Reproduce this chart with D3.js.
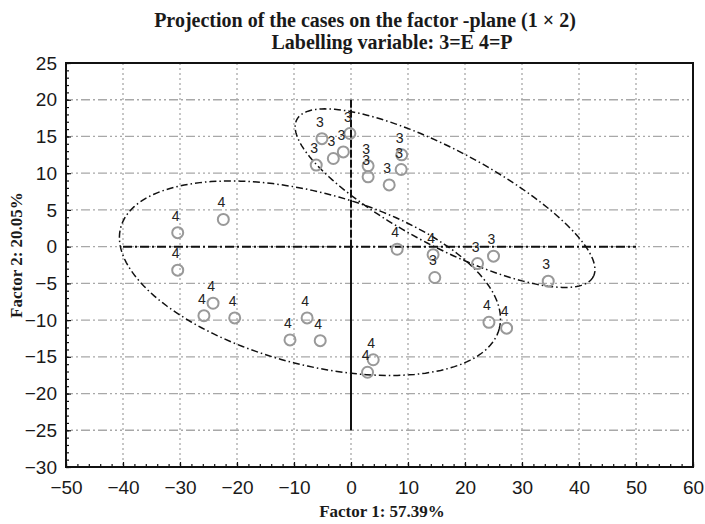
<!DOCTYPE html>
<html><head><meta charset="utf-8">
<script src="https://cdn.jsdelivr.net/npm/d3@7"></script>
<style>body{margin:0;background:#fff}</style>
</head><body><svg id="c" width="705" height="524"></svg>
<script>
const xTicks = [-50,-40,-30,-20,-10,0,10,20,30,40,50,60];
const yTicks = [25,20,15,10,5,0,-5,-10,-15,-20,-25,-30];
const caseLabel = [3,3,3,3,3,3,3,3,3,3, 3,3,3,3, 4,4,4,4, 4,4,4,4,4,4,4,4,4,4,4];
const caseX = [-5.1,-3.1,-1.35,-0.2,-6.1,3.0,3.0,6.7,8.8,8.9, 14.7,22.2,25.0,34.6, 8.1,14.4,24.2,27.3, -22.4,-30.4,-30.4,-24.2,-25.8,-20.4,-10.7,-7.7,-5.4,3.9,2.9];
const caseY = [14.7,12.0,12.9,15.4,11.1,11.0,9.5,8.4,10.5,12.5, -4.2,-2.3,-1.3,-4.7, -0.35,-1.1,-10.3,-11.1, 3.7,1.9,-3.2,-7.7,-9.4,-9.7,-12.7,-9.7,-12.8,-15.4,-17.1];
const ellipseCentre = [[16.5,6.6],[-7.2,-4.3]];
const ellipseAxisA = [[26.0,-10.7],[33.2,-6.9]];
const ellipseAxisB = [[-3.95,-5.77],[-3.9,-11.3]];
const title1 = "Projection of the cases on the factor -plane (1 \u00d7 2)";
const title2 = "Labelling variable: 3=E 4=P";
const xTitle = "Factor 1: 57.39%";
const yTitle = "Factor 2: 20.05%";

const svg = d3.select("#c");
const L=66,R=693,T=63,B=467;
const x = d3.scaleLinear([-50,60],[L,R]);
const y = d3.scaleLinear([-30,25],[B,T]);

// gridlines
const g = svg.append("g");
g.selectAll(".gx").data(xTicks.slice(1,-1)).join("line")
  .attr("x1",d=>x(d)).attr("x2",d=>x(d)).attr("y1",T).attr("y2",B)
  .attr("stroke","#a8a8a8").attr("stroke-width",1.3).attr("stroke-dasharray","2,3");
g.selectAll(".gy").data(yTicks.slice(1,-1)).join("line")
  .attr("y1",d=>y(d)).attr("y2",d=>y(d)).attr("x1",L).attr("x2",R)
  .attr("stroke","#a8a8a8").attr("stroke-width",1.3).attr("stroke-dasharray","2,3,2,3,2,3,9,3,2,3,9,3");

// axes lines through origin
svg.append("line").attr("x1",x(-40)).attr("x2",x(50)).attr("y1",y(0)).attr("y2",y(0))
  .attr("stroke","#111").attr("stroke-width",2).attr("stroke-dasharray","9,3,2,3");
svg.append("line").attr("x1",x(0)).attr("x2",x(0)).attr("y1",y(20)).attr("y2",y(0))
  .attr("stroke","#111").attr("stroke-width",2).attr("stroke-dasharray","8,2");
svg.append("line").attr("x1",x(0)).attr("x2",x(0)).attr("y1",y(0)).attr("y2",y(-25))
  .attr("stroke","#111").attr("stroke-width",2);

// ellipses
const tt = d3.range(0,2*Math.PI+0.01,Math.PI/90);
const lineGen = d3.line().x(d=>x(d[0])).y(d=>y(d[1]));
ellipseCentre.forEach((c,i)=>{
  const a=ellipseAxisA[i], b=ellipseAxisB[i];
  const pts = tt.map(t=>[c[0]+a[0]*Math.cos(t)+b[0]*Math.sin(t), c[1]+a[1]*Math.cos(t)+b[1]*Math.sin(t)]);
  svg.append("path").attr("d",lineGen(pts)).attr("fill","none")
    .attr("stroke","#111").attr("stroke-width",1.5).attr("stroke-dasharray","7,3,1.5,3");
});

// points
const idx = d3.range(caseX.length);
svg.append("g").selectAll("circle").data(idx).join("circle")
  .attr("cx",i=>x(caseX[i])).attr("cy",i=>y(caseY[i])).attr("r",5.5)
  .attr("fill","none").attr("stroke","#999").attr("stroke-width",2);
svg.append("g").selectAll("text").data(idx).join("text")
  .attr("x",i=>x(caseX[i])-2).attr("y",i=>y(caseY[i])-12)
  .attr("text-anchor","middle").attr("font-family","Liberation Sans, Arial, sans-serif")
  .attr("font-size",14).attr("fill","#222").text(i=>caseLabel[i]);

// frame
svg.append("rect").attr("x",L).attr("y",T).attr("width",R-L).attr("height",B-T)
  .attr("fill","none").attr("stroke","#111").attr("stroke-width",2);

// minor ticks
const ax = svg.append("g").attr("transform",`translate(0,${B})`)
  .call(d3.axisBottom(x).tickValues(d3.range(-50,61,2)).tickSize(-3).tickFormat(""));
const ay = svg.append("g").attr("transform",`translate(${L},0)`)
  .call(d3.axisLeft(y).tickValues(d3.range(-30,26,1)).tickSize(-3).tickFormat(""));
[ax,ay].forEach(s=>{s.select(".domain").remove(); s.selectAll("line").attr("stroke","#111").attr("stroke-width",1.2);});

// major labels
const fx = svg.append("g").attr("transform",`translate(0,${B})`)
  .call(d3.axisBottom(x).tickValues(xTicks).tickSize(-5).tickPadding(14).tickFormat(d3.format("d")));
const fy = svg.append("g").attr("transform",`translate(${L},0)`)
  .call(d3.axisLeft(y).tickValues(yTicks).tickSize(-5).tickPadding(9).tickFormat(d3.format("d")));
[fx,fy].forEach(s=>{s.select(".domain").remove();
  s.selectAll("line").attr("stroke","#111").attr("stroke-width",1.2);
  s.selectAll("text").attr("font-family","Liberation Sans, Arial, sans-serif").attr("font-size",19).attr("fill","#1a1a1a");});

// titles
const serif="Liberation Serif, Times New Roman, serif";
svg.append("text").attr("x",365).attr("y",27).attr("text-anchor","middle").attr("font-family",serif)
  .attr("font-weight","bold").attr("font-size",20).attr("fill","#1a1a1a").text(title1);
svg.append("text").attr("x",392).attr("y",49).attr("text-anchor","middle").attr("font-family",serif)
  .attr("font-weight","bold").attr("font-size",20).attr("fill","#1a1a1a").text(title2);
svg.append("text").attr("x",382).attr("y",517).attr("text-anchor","middle").attr("font-family",serif)
  .attr("font-weight","bold").attr("font-size",17).attr("fill","#1a1a1a").text(xTitle);
svg.append("text").attr("transform","translate(22,255) rotate(-90)").attr("text-anchor","middle").attr("font-family",serif)
  .attr("font-weight","bold").attr("font-size",17).attr("fill","#1a1a1a").text(yTitle);
</script></body></html>
